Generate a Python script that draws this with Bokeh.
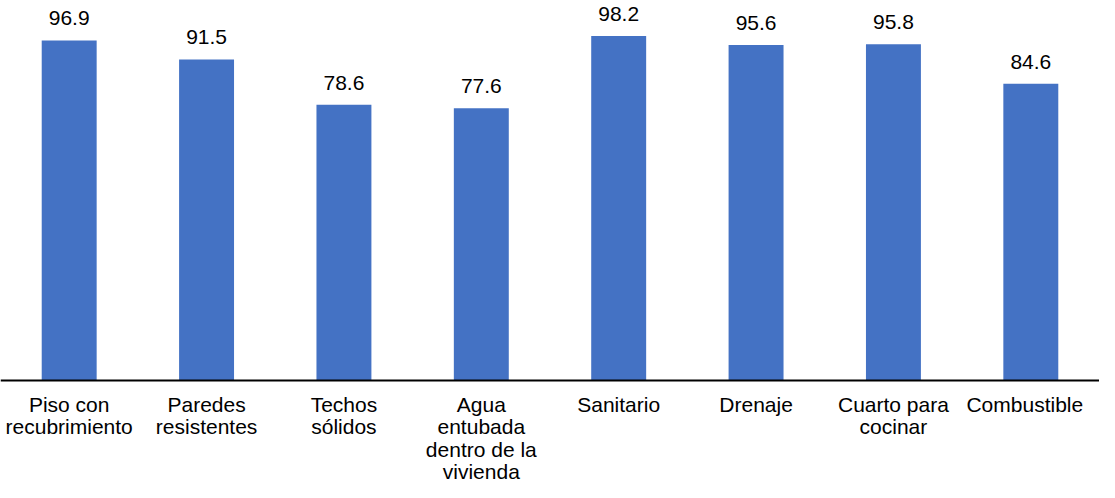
from bokeh.plotting import figure
from bokeh.models import ColumnDataSource, FactorRange, Range1d, LabelSet, Span
from bokeh.core.properties import value
from bokeh.embed import file_html
from bokeh.resources import INLINE

categories = ["Piso con\nrecubrimiento", "Paredes\nresistentes", "Techos\nsólidos",
              "Agua\nentubada\ndentro de la\nvivienda", "Sanitario", "Drenaje",
              "Cuarto para\ncocinar", "Combustible"]
values = [96.9, 91.5, 78.6, 77.6, 98.2, 95.6, 95.8, 84.6]
labels = [f"{v:.1f}" for v in values]

W, H = 1099, 482
PX_PER_UNIT = 3.509      # vertical scale, px per percentage point
BASE_Y = 380             # baseline position from the top of the figure, px
CAT_PX = 139.4           # width of one category slot, px

# keep the last category label inside the canvas
label_dx = [0] * (len(categories) - 1) + [-6]

src = ColumnDataSource(dict(x=categories, top=values, label=labels,
                            base=[0] * len(values), dx=label_dx))

p = figure(width=W, height=H, output_backend="svg", toolbar_location=None,
           x_range=FactorRange(*categories, start=0.0014, end=0.0014 + W / CAT_PX),
           y_range=Range1d(-(H - BASE_Y) / PX_PER_UNIT, BASE_Y / PX_PER_UNIT),
           min_border_left=0, min_border_right=0, min_border_top=0, min_border_bottom=0)
p.xaxis.visible = False
p.yaxis.visible = False
p.grid.visible = False
p.outline_line_color = None

p.vbar(x="x", top="top", width=0.40, source=src, color="#4472C4", line_color=None)

p.add_layout(Span(location=0, dimension="width", line_color="#000000", line_width=2))

lab = LabelSet(x="x", y="top", text="label", source=src, text_align="center",
               text_baseline="alphabetic", y_offset=15, text_font=value("Liberation Sans"),
               text_font_size="21px", text_color="#000000")
p.add_layout(lab)

p.text(x="x", y="base", text="x", source=src, text_align="center", text_baseline="top",
       x_offset="dx", y_offset=12, text_font=value("Liberation Sans"), text_font_size="21px",
       text_color="#000000", text_line_height=0.98)

open("out.html", "w").write(file_html(p, INLINE))
